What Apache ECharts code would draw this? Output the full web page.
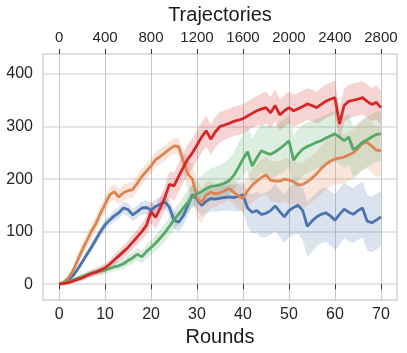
<!DOCTYPE html>
<html><head><meta charset="utf-8">
<script src="https://cdn.jsdelivr.net/npm/echarts@6/dist/echarts.min.js"></script>
<style>html,body{margin:0;padding:0;background:#fff}#c{width:407px;height:353px}</style>
</head><body><div id="c"></div>
<script>
const rounds = [0,1,2,3,4,5,6,7,8,9,10,11,12,13,14,15,16,17,18,19,20,21,22,23,24,25,26,27,28,29,30,31,32,33,34,35,36,37,38,39,40,41,42,43,44,45,46,47,48,49,50,51,52,53,54,55,56,57,58,59,60,61,62,63,64,65,66,67,68,69,70];
const roundTicks = [0,10,20,30,40,50,60,70];
const trajTicks = [0,400,800,1200,1600,2000,2400,2800];
const yTicks = [0,100,200,300,400];

const blue = [0,3,8,16,28,42,56,70,85,100,113,122,130,136,145,142,132,138,145,146,141,148,152,157,146,122,118,130,150,170,162,150,158,163,162,164,165,166,165,167,170,145,137,140,133,135,140,149,138,128,140,146,150,140,110,120,128,133,136,130,122,133,143,137,133,140,145,120,117,122,128];
const blueUp = [0,2,3,4,5,6,7,8,9,10,10,10,11,11,12,12,12,12,13,13,13,14,14,14,15,16,18,18,18,20,20,20,22,22,22,22,22,24,24,25,25,30,34,36,38,40,40,42,42,42,44,44,45,45,46,46,46,48,48,48,50,50,50,50,50,50,50,50,50,50,50];
const blueDn = [0,2,3,4,5,6,7,8,9,10,10,10,11,11,12,12,12,12,13,13,13,14,14,14,15,16,18,18,18,20,20,22,24,24,24,25,25,26,26,28,30,35,40,42,44,45,46,48,48,50,50,52,54,56,58,58,56,55,55,56,58,58,56,55,55,56,56,56,56,56,56];

const orange = [0,4,12,25,45,65,82,100,115,135,152,170,176,166,174,178,180,192,205,215,225,237,243,250,257,263,262,235,210,200,165,155,170,175,172,174,178,182,175,168,163,178,188,196,203,208,198,196,196,200,198,195,189,190,195,202,210,220,228,234,238,240,242,246,250,258,268,270,263,255,254];
const orangeUp = [0,3,5,8,10,12,13,14,15,15,15,15,15,15,15,15,15,15,15,15,15,15,15,15,15,15,16,20,25,28,30,28,25,22,20,20,20,20,22,22,25,28,30,32,34,35,36,38,38,40,40,40,42,42,42,42,42,44,44,44,45,45,45,45,45,45,45,45,45,45,45];
const orangeDn = [0,3,5,8,10,12,13,14,15,15,15,15,15,15,15,15,15,15,15,15,15,15,15,15,15,15,16,22,30,35,40,40,35,30,25,22,22,22,24,26,28,30,32,34,36,38,40,40,42,42,44,44,45,45,46,46,46,48,48,48,48,50,50,50,50,50,50,50,50,50,50];

const green = [0,2,5,8,11,14,18,21,23,25,27,30,33,35,39,45,50,57,52,62,70,78,88,98,110,123,133,145,155,166,172,176,182,186,187,189,192,197,207,222,238,252,225,240,254,250,247,252,258,265,273,236,248,257,262,266,270,273,278,282,286,280,273,280,256,262,270,275,280,285,286];
const greenUp = [0,2,3,4,5,6,6,7,7,8,8,8,9,9,10,10,11,12,12,13,14,15,16,17,18,19,20,22,24,26,28,30,32,34,36,38,40,42,44,46,48,50,52,52,52,52,52,50,50,50,48,48,48,46,46,45,45,45,44,44,44,44,44,44,44,44,44,44,44,44,44];
const greenDn = [0,2,3,4,5,6,6,7,7,8,8,8,9,9,10,10,11,12,12,13,14,15,16,17,18,19,20,20,20,20,20,20,22,22,22,24,25,26,28,30,32,36,38,40,42,44,46,48,48,50,50,50,50,50,50,50,50,50,50,50,52,52,52,52,52,52,52,52,52,52,52];

const red = [0,1,3,6,9,12,16,20,23,27,31,38,46,54,62,70,80,90,100,112,138,127,145,165,190,187,205,222,238,250,265,280,292,276,290,300,303,306,310,312,315,320,325,330,333,336,326,340,322,330,336,330,334,338,343,340,336,342,348,352,355,305,340,348,350,352,355,348,342,346,336];
const redUp = [0,2,3,4,5,6,6,7,7,8,8,9,10,11,12,13,14,15,16,18,20,20,22,22,24,25,26,27,28,28,28,28,28,28,28,28,28,28,28,28,28,28,28,28,30,30,30,30,30,30,30,30,30,30,30,30,30,32,32,32,32,32,32,32,32,32,32,32,32,32,32];
const redDn = [0,2,3,4,5,6,6,7,7,8,8,9,10,11,12,13,14,15,16,18,22,22,24,24,26,28,30,30,30,30,30,30,30,30,30,30,28,28,28,28,28,28,28,28,30,30,30,30,30,30,30,30,30,30,30,30,30,32,32,32,32,32,32,32,32,32,32,32,32,32,32];

const C = {blue:'#4C72B0', orange:'#DD8452', green:'#55A868', red:'#D62728'};
const FONT = 'Liberation Sans, Arial, sans-serif';
const plain = v => String(v);

function band(mean, up, dn, color){
  return {
    type:'custom', silent:true, clip:true, z:1,
    data:[[0,0]],
    renderItem(params, api){
      const pts = [];
      for (let i = 0; i < rounds.length; i++) pts.push(api.coord([rounds[i], mean[i] + up[i]]));
      for (let i = rounds.length - 1; i >= 0; i--) pts.push(api.coord([rounds[i], mean[i] - dn[i]]));
      return {type:'polygon', shape:{points:pts}, style:{fill:color, opacity:0.2}};
    }
  };
}
function line(mean, color, z){
  return {
    type:'line', z:z, showSymbol:false, silent:true, animation:false,
    data: rounds.map((x,i)=>[x, mean[i]]),
    lineStyle:{color:color, width:2.8}, itemStyle:{color:color}
  };
}

const chart = echarts.init(document.getElementById('c'), null, {renderer:'canvas'});
chart.setOption({
  animation:false,
  backgroundColor:'#ffffff',
  textStyle:{fontFamily:FONT},
  grid:{left:43, right:10, top:53, bottom:53, show:true, borderColor:'#d4d4d4', borderWidth:1.5, backgroundColor:'transparent'},
  xAxis:[
    {type:'value', position:'bottom', min:-3.5, max:73.5,
     axisLine:{show:false},
     axisTick:{show:true, customValues:roundTicks, length:5, lineStyle:{color:'#333', width:1}},
     axisLabel:{customValues:roundTicks, formatter:plain, fontSize:16, color:'#262626', margin:7, fontFamily:FONT},
     splitLine:{show:true, lineStyle:{color:'#c8c8c8', width:1}},
     name:'Rounds', nameLocation:'middle', nameGap:19,
     nameTextStyle:{fontSize:20, color:'#1a1a1a', fontFamily:FONT}},
    {type:'value', position:'top', min:-140, max:2940,
     axisLine:{show:false},
     axisTick:{show:true, customValues:trajTicks, length:5, lineStyle:{color:'#333', width:1}},
     axisLabel:{customValues:trajTicks, formatter:plain, fontSize:15, color:'#262626', margin:9, fontFamily:FONT},
     splitLine:{show:false},
     name:'Trajectories', nameLocation:'middle', nameGap:29,
     nameTextStyle:{fontSize:20, color:'#1a1a1a', fontFamily:FONT}}
  ],
  yAxis:{type:'value', min:-30, max:438,
     axisLine:{show:false},
     axisTick:{show:false, customValues:yTicks},
     axisLabel:{customValues:yTicks, formatter:plain, fontSize:16, color:'#262626', margin:10, fontFamily:FONT},
     splitLine:{show:true, lineStyle:{color:'#dcdcdc', width:1.5}}},
  series:[
    band(blue, blueUp, blueDn, C.blue),
    band(orange, orangeUp, orangeDn, C.orange),
    band(green, greenUp, greenDn, C.green),
    band(red, redUp, redDn, C.red),
    line(blue, C.blue, 3),
    line(orange, C.orange, 3),
    line(green, C.green, 3),
    line(red, C.red, 3)
  ]
});
</script></body></html>
